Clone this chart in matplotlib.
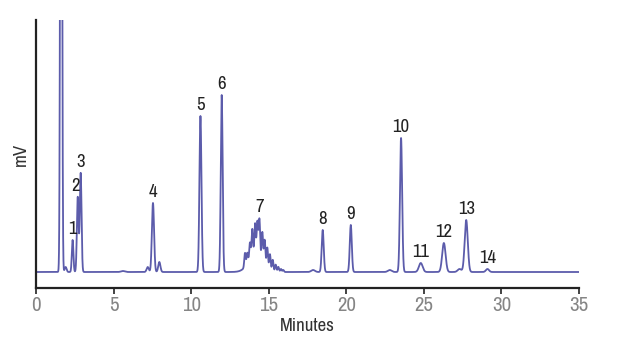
import matplotlib as mpl
mpl.use("Agg")
import matplotlib.pyplot as plt
import numpy as np

FONT = ["Archivo Narrow", "DejaVu Sans"]

# ── Peak table (retention time in min, height in mV units, sigma in min) ─────
PEAK_TIMES = [1.62, 1.91, 2.36, 2.69, 2.88, 5.60, 7.20, 7.54, 7.95, 10.60,
              11.97, 17.86, 18.48, 20.29, 22.80, 23.53, 24.80, 26.29, 27.30,
              27.73, 29.10]
PEAK_HEIGHTS = [1000, 5, 32, 75, 99, 1, 5, 69, 10, 156,
                177, 2, 42, 47, 2, 134, 9, 29, 3,
                52, 3]
PEAK_SIGMAS = [0.05, 0.06, 0.05, 0.055, 0.055, 0.12, 0.07, 0.07, 0.07, 0.065,
               0.06, 0.12, 0.065, 0.065, 0.12, 0.07, 0.12, 0.11, 0.12,
               0.10, 0.10]

# peak 7: oligomer cluster on top of a broad hump
CLUSTER_TIMES = [13.47, 13.62, 13.79, 13.94, 14.12, 14.27, 14.40, 14.59,
                 14.74, 14.91, 15.08, 15.26, 15.45, 15.62, 15.79, 15.94]
CLUSTER_HEIGHTS = [14, 11, 17, 27, 30, 32, 36, 27, 23, 19, 15, 11, 7, 5, 3, 2]
HUMP_TIME, HUMP_HEIGHT, HUMP_SIGMA = 14.2, 19, 0.45

# numbered peaks (label, time, top of peak)
LABELS = ["1", "2", "3", "4", "5", "6", "7", "8", "9", "10", "11", "12", "13", "14"]
LABEL_TIMES = [2.36, 2.55, 2.88, 7.54, 10.60, 11.97, 14.40, 18.48, 20.29,
               23.53, 24.80, 26.29, 27.73, 29.10]
LABEL_TOPS = [32, 75, 99, 69, 156, 177, 54, 42, 47, 134, 9, 29, 52, 3]

LINE_CLR = "#5c5cab"


def gauss(t, mu, h, s):
    return h * np.exp(-0.5 * ((t - mu) / s) ** 2)


t = np.linspace(0, 35, 7001)
signal = np.zeros_like(t)
for mu, h, s in zip(PEAK_TIMES, PEAK_HEIGHTS, PEAK_SIGMAS):
    signal += gauss(t, mu, h, s)
signal += gauss(t, HUMP_TIME, HUMP_HEIGHT, HUMP_SIGMA)
for mu, h in zip(CLUSTER_TIMES, CLUSTER_HEIGHTS):
    signal += gauss(t, mu, h, 0.045)

fig = plt.figure(figsize=(6.22, 3.52), dpi=100)
ax = fig.add_axes([36 / 622, 64 / 352, 543 / 622, 268 / 352])
ax.plot(t, signal, color=LINE_CLR, lw=1.3)

ax.set_xlim(0, 35)
ax.set_ylim(-16, 252)
ax.set_xticks(np.arange(0, 36, 5))
ax.set_yticks([])
for side in ("top", "right"):
    ax.spines[side].set_visible(False)
for side in ("left", "bottom"):
    ax.spines[side].set_color("#222222")
    ax.spines[side].set_linewidth(1.6)
ax.tick_params(axis="x", direction="out", length=4, width=1.2, color="#222222",
               labelsize=15, labelcolor="#858585", pad=2)
for lab in ax.get_xticklabels():
    lab.set_family(FONT)

ax.set_xlabel("Minutes", family=FONT, fontsize=13.5, color="#333333", labelpad=2)
ax.set_ylabel("mV", family=FONT, fontsize=13.5, color="#333333", labelpad=5)

for lab, x, y in zip(LABELS, LABEL_TIMES, LABEL_TOPS):
    ax.annotate(lab, (x, y), xytext=(0, 2), textcoords="offset points",
                ha="center", va="bottom", family=FONT,
                fontsize=13.5, color="#222222")

fig.savefig("out.png", dpi=100)
